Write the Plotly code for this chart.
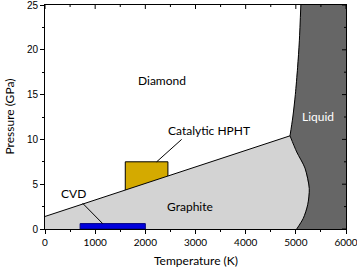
import plotly.graph_objects as go

# --- data ---
# graphite/diamond coexistence line (T in K, P in GPa)
gd_T = [0, 4884]
gd_P = [1.4, 10.4]
# graphite melting curve (from triple point down to P=0)
gm_T = [4884, 5017, 5182, 5268, 5236, 5149, 5017]
gm_P = [10.4, 8.6, 6.8, 4.5, 2.7, 1.2, 0.0]
# diamond melting curve (from triple point up to 25 GPa)
dm_T = [4884, 4940, 4990, 5035, 5070, 5100]
dm_P = [10.4, 12.5, 15.0, 18.0, 21.0, 25.0]
# synthesis windows
hpht_T = [1600, 2450, 2450, 1600, 1600]
hpht_P = [4.0, 4.0, 7.5, 7.5, 4.0]
cvd_T = [700, 2000, 2000, 700, 700]
cvd_P = [0.0, 0.0, 0.6, 0.6, 0.0]
# label leader lines
hpht_lead_T = [2724, 2226]
hpht_lead_P = [10.0, 7.5]
cvd_lead_T = [750, 1150]
cvd_lead_P = [2.87, 0.6]
# labels
labels = ["Diamond", "Catalytic HPHT", "CVD", "Graphite", "Liquid"]
label_T = [2330, 3270, 560, 2900, 5440]
label_P = [16.6, 10.95, 3.95, 2.55, 12.6]
label_col = ["black", "black", "black", "black", "white"]

x_ticks = [0, 1000, 2000, 3000, 4000, 5000, 6000]
x_minor = [500, 1500, 2500, 3500, 4500, 5500]
y_ticks = [0, 5, 10, 15, 20, 25]
y_minor = [2.5, 7.5, 12.5, 17.5, 22.5]
x_title = "Temperature (K)"
y_title = "Pressure (GPa)"

T_MAX, P_MAX = 6000, 25

fig = go.Figure()

# HPHT window (drawn first, graphite covers its lower part)
fig.add_trace(go.Scatter(x=hpht_T, y=hpht_P, mode="lines", fill="toself",
                         fillcolor="#d4aa00", line=dict(color="black", width=1),
                         hoverinfo="skip"))

# graphite region
g_T = [0] + gd_T + gm_T[1:] + [0]
g_P = [0] + gd_P + gm_P[1:] + [0]
fig.add_trace(go.Scatter(x=g_T, y=g_P, mode="lines", fill="toself",
                         fillcolor="#d3d3d3", line=dict(color="rgba(0,0,0,0)", width=0),
                         hoverinfo="skip"))

# liquid region
l_T = gm_T[::-1] + dm_T[1:] + [T_MAX, T_MAX, gm_T[-1]]
l_P = gm_P[::-1] + dm_P[1:] + [P_MAX, 0, 0]
fig.add_trace(go.Scatter(x=l_T, y=l_P, mode="lines", fill="toself",
                         fillcolor="#666666", line=dict(color="rgba(0,0,0,0)", width=0),
                         hoverinfo="skip"))

# boundary lines
for xs, ys in [(gd_T, gd_P), (gm_T, gm_P), (dm_T, dm_P)]:
    fig.add_trace(go.Scatter(x=xs, y=ys, mode="lines",
                             line=dict(color="black", width=1, shape="spline", smoothing=0.8),
                             hoverinfo="skip"))

# CVD window
fig.add_trace(go.Scatter(x=cvd_T, y=cvd_P, mode="lines", fill="toself",
                         fillcolor="#0000dd", line=dict(color="#000080", width=1),
                         hoverinfo="skip"))

# leader lines
for xs, ys in [(hpht_lead_T, hpht_lead_P), (cvd_lead_T, cvd_lead_P)]:
    fig.add_trace(go.Scatter(x=xs, y=ys, mode="lines",
                             line=dict(color="black", width=1), hoverinfo="skip"))

# labels
for t, x, y, c in zip(labels, label_T, label_P, label_col):
    fig.add_annotation(x=x, y=y, text=t, showarrow=False,
                       font=dict(family="Lato", size=12, color=c))

# axis titles
fig.add_annotation(xref="paper", yref="paper", x=0.5, y=0, yanchor="middle",
                   yshift=-31, text=x_title, showarrow=False,
                   font=dict(family="Lato", size=12, color="black"))
fig.add_annotation(xref="paper", yref="paper", x=0, y=0.5, xanchor="center",
                   xshift=-36.5, text=y_title, textangle=-90, showarrow=False,
                   font=dict(family="Lato", size=12, color="black"))

# inside (mirrored) ticks on the top and right frame
tick_line = dict(color="black", width=1)
for v, ln in [(v, 4) for v in x_ticks] + [(v, 2) for v in x_minor]:
    fig.add_shape(type="line", xref="x", yref="y", x0=v, x1=v,
                  ysizemode="pixel", yanchor=P_MAX, y0=0, y1=-ln, line=tick_line)
for v, ln in [(v, 4) for v in y_ticks] + [(v, 2) for v in y_minor]:
    fig.add_shape(type="line", xref="x", yref="y", y0=v, y1=v,
                  xsizemode="pixel", xanchor=T_MAX, x0=0, x1=-ln, line=tick_line)

fig.update_layout(
    width=357, height=270,
    margin=dict(l=45, r=11, t=5, b=41),
    paper_bgcolor="white", plot_bgcolor="white",
    showlegend=False,
    xaxis=dict(range=[0, T_MAX], tickvals=x_ticks, automargin=False,
               minor=dict(tickvals=x_minor, ticks="outside", ticklen=2, tickcolor="black"),
               tickfont=dict(family="Lato", size=10, color="black"),
               ticklabeloverflow="allow",
               showgrid=False, zeroline=False, showline=True, mirror=True, linecolor="black",
               ticks="outside", ticklen=4, tickcolor="black"),
    yaxis=dict(range=[0, P_MAX], tickvals=y_ticks, automargin=False,
               minor=dict(tickvals=y_minor, ticks="outside", ticklen=2, tickcolor="black"),
               tickfont=dict(family="Liberation Sans", size=10, color="black"),
               ticklabeloverflow="allow",
               showgrid=False, zeroline=False, showline=True, mirror=True, linecolor="black",
               ticks="outside", ticklen=4, tickcolor="black"),
)

fig.write_html("out.html")
